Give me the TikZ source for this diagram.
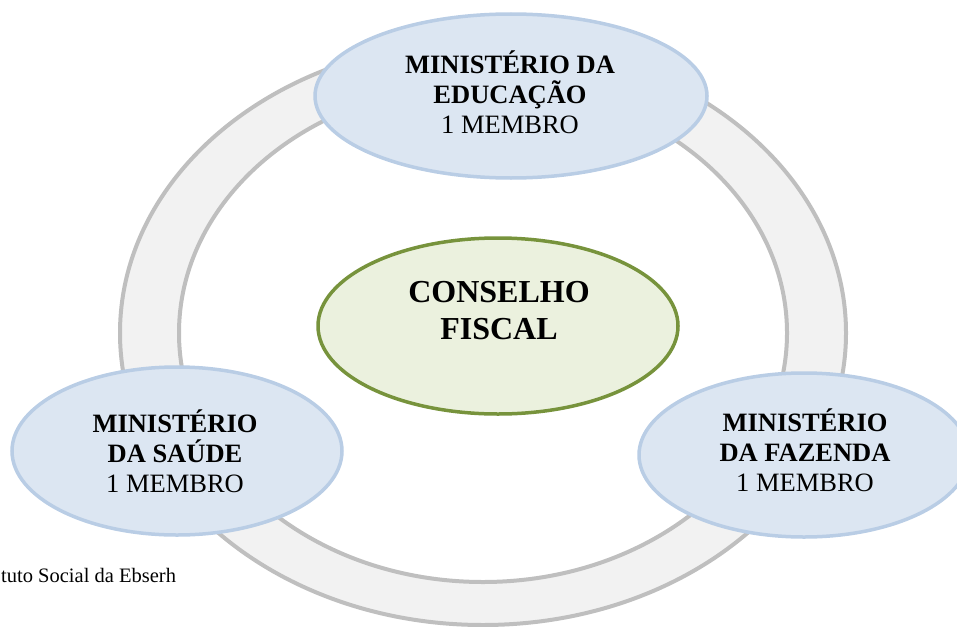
\documentclass[tikz,border=0pt]{standalone}
\usepackage{fontspec}
\setmainfont{Liberation Serif}
\usepackage{xcolor}
\usepackage{tikz}
\usetikzlibrary{shapes.geometric}

\definecolor{anelcinza}{HTML}{BFBFBF}
\definecolor{anelfundo}{HTML}{F2F2F2}
\definecolor{azulfundo}{HTML}{DCE6F2}
\definecolor{azulborda}{HTML}{B9CDE5}
\definecolor{verdefundo}{HTML}{EBF1DE}
\definecolor{verdeborda}{HTML}{77933C}

\tikzset{
  ministerio/.style={ellipse,draw=azulborda,fill=azulfundo,line width=3.5pt,inner sep=0pt},
  conselho/.style={ellipse,draw=verdeborda,fill=verdefundo,line width=3.5pt,inner sep=0pt,
    minimum width=360pt,minimum height=176pt},
  rotulo/.style={align=center,inner sep=0pt,font=\fontsize{26.5}{30}\selectfont},
}

\begin{document}
\begin{tikzpicture}[x=1pt,y=-1pt]
\useasboundingbox (0,0) rectangle (957,626);
% anel
\fill[anelfundo,even odd rule] (483,333) ellipse [x radius=363,y radius=292]
  (483,333) ellipse [x radius=304,y radius=249];
\draw[anelcinza,line width=4pt] (483,333) ellipse [x radius=363,y radius=292];
\draw[anelcinza,line width=4pt] (483,333) ellipse [x radius=304,y radius=249];

\node[conselho] (fiscal) at (498,326) {};
\node[rotulo,font=\bfseries\fontsize{32}{37}\selectfont] (fiscalTxt) at (499,311) {CONSELHO\\FISCAL};

\node[ministerio,minimum width=392pt,minimum height=164pt] (educacao) at (511,96) {};
\node[rotulo] (educacaoTxt) at (510,92) {\textbf{MINISTÉRIO DA}\\\textbf{EDUCAÇÃO}\\1 MEMBRO};

\node[ministerio,minimum width=330pt,minimum height=168pt] (saude) at (177,451) {};
\node[rotulo] (saudeTxt) at (175,451) {\textbf{MINISTÉRIO}\\\textbf{DA SAÚDE}\\1 MEMBRO};

\node[ministerio,minimum width=330pt,minimum height=164pt] (fazenda) at (804,455) {};
\node[rotulo] (fazendaTxt) at (805,450) {\textbf{MINISTÉRIO}\\\textbf{DA FAZENDA}\\1 MEMBRO};

\node[anchor=base west,inner sep=0pt,font=\fontsize{20.5}{24}\selectfont] (fonte) at (1,582) {tuto Social da Ebserh};
\end{tikzpicture}
\end{document}
